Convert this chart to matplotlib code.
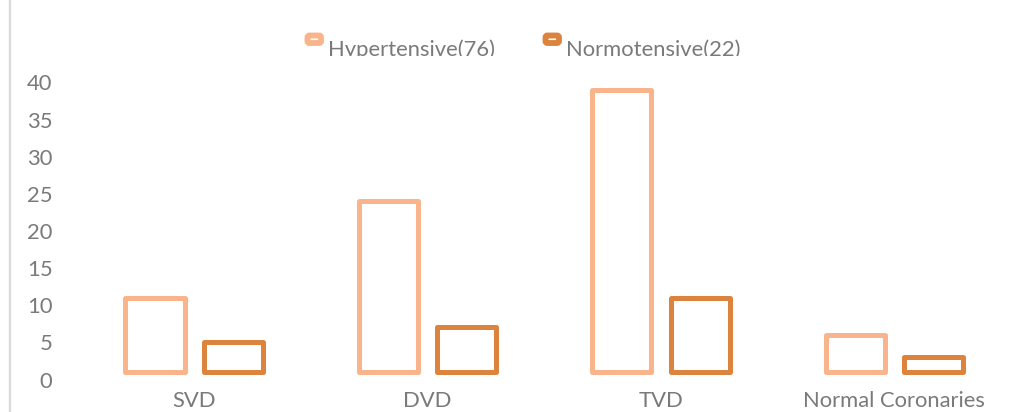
import matplotlib
matplotlib.use("Agg")
import matplotlib.pyplot as plt
import numpy as np
from matplotlib.lines import Line2D
from matplotlib.patches import FancyBboxPatch
from matplotlib.transforms import ScaledTranslation, blended_transform_factory

# ---- data -------------------------------------------------------------
categories = ["SVD", "DVD", "TVD", "Normal Coronaries"]
hypertensive = [10, 23, 38, 5]
normotensive = [4, 6, 10, 2]
series_labels = ["Hypertensive(76)", "Normotensive(22)"]
y_ticks = [0, 5, 10, 15, 20, 25, 30, 35, 40]

# ---- style ------------------------------------------------------------
HYP_COLOR = "#F9B48C"
NORM_COLOR = "#DC843D"
TEXT_COLOR = "#7A7A7A"
FONT = "Lato"
FS = 15.8

W, H = 1033, 412
fig = plt.figure(figsize=(W / 100, H / 100), dpi=100)
fig.patch.set_facecolor("white")


def px_rect(x0, y0, x1, y1):
    """Axes rectangle from pixel edges (y measured from the top)."""
    return [x0 / W, 1 - y1 / H, (x1 - x0) / W, (y1 - y0) / H]


ax = fig.add_axes(px_rect(77.5, 75, 1011, 372))
ax.set_xlim(-0.5, len(categories) - 0.5)
ax.set_ylim(0, 40)
for s in ax.spines.values():
    s.set_visible(False)
ax.set_xticks([])
ax.set_yticks([])

x = np.arange(len(categories))
bw = 0.253
off = 0.168
lw = 3.6
for xs, vals, col in ((x - off, hypertensive, HYP_COLOR),
                      (x + off, normotensive, NORM_COLOR)):
    bars = ax.bar(xs, vals, width=bw, facecolor="white", edgecolor=col,
                  linewidth=lw, clip_on=False)
    for b in bars:
        b.set_joinstyle("round")

# value labels on the left, set a little below their tick values
down = ScaledTranslation(0, -9.5 / 100, fig.dpi_scale_trans)
ytrans = blended_transform_factory(fig.transFigure, ax.transData) + down
for v in y_ticks:
    ax.text(52.5 / W, v, str(v), transform=ytrans, ha="right", va="center",
            fontsize=FS, color=TEXT_COLOR, family=FONT, clip_on=False)

# category labels
xdown = ScaledTranslation(0, -19 / 100, fig.dpi_scale_trans)
for xi, c in zip(x, categories):
    ax.text(xi, 0, c, transform=ax.transData + xdown, ha="center", va="top",
            fontsize=FS, color=TEXT_COLOR, family=FONT, clip_on=False)

# light vertical rule at the left edge
fig.add_artist(Line2D([9.5 / W, 9.5 / W], [0, 1], transform=fig.transFigure,
                      color="#D9D9D9", linewidth=1.6))

# legend strip (its bottom edge trims the label text)
lax = fig.add_axes(px_rect(0, 0, W, 55.5))
lax.set_xlim(0, W)
lax.set_ylim(55.5, 0)
lax.axis("off")
legend_items = [(305, 328, HYP_COLOR, series_labels[0]),
                (543, 566, NORM_COLOR, series_labels[1])]
for mx, tx, col, lab in legend_items:
    lax.add_patch(FancyBboxPatch((mx + 2.5, 35.5), 13.5, 7.5,
                                 boxstyle="round,pad=0,rounding_size=2",
                                 facecolor="white", edgecolor=col,
                                 linewidth=4.2))
    lax.text(tx, 55.5, lab, ha="left", va="baseline", fontsize=FS,
             color=TEXT_COLOR, family=FONT, clip_on=True)

fig.savefig("out.png", dpi=100, facecolor="white")
